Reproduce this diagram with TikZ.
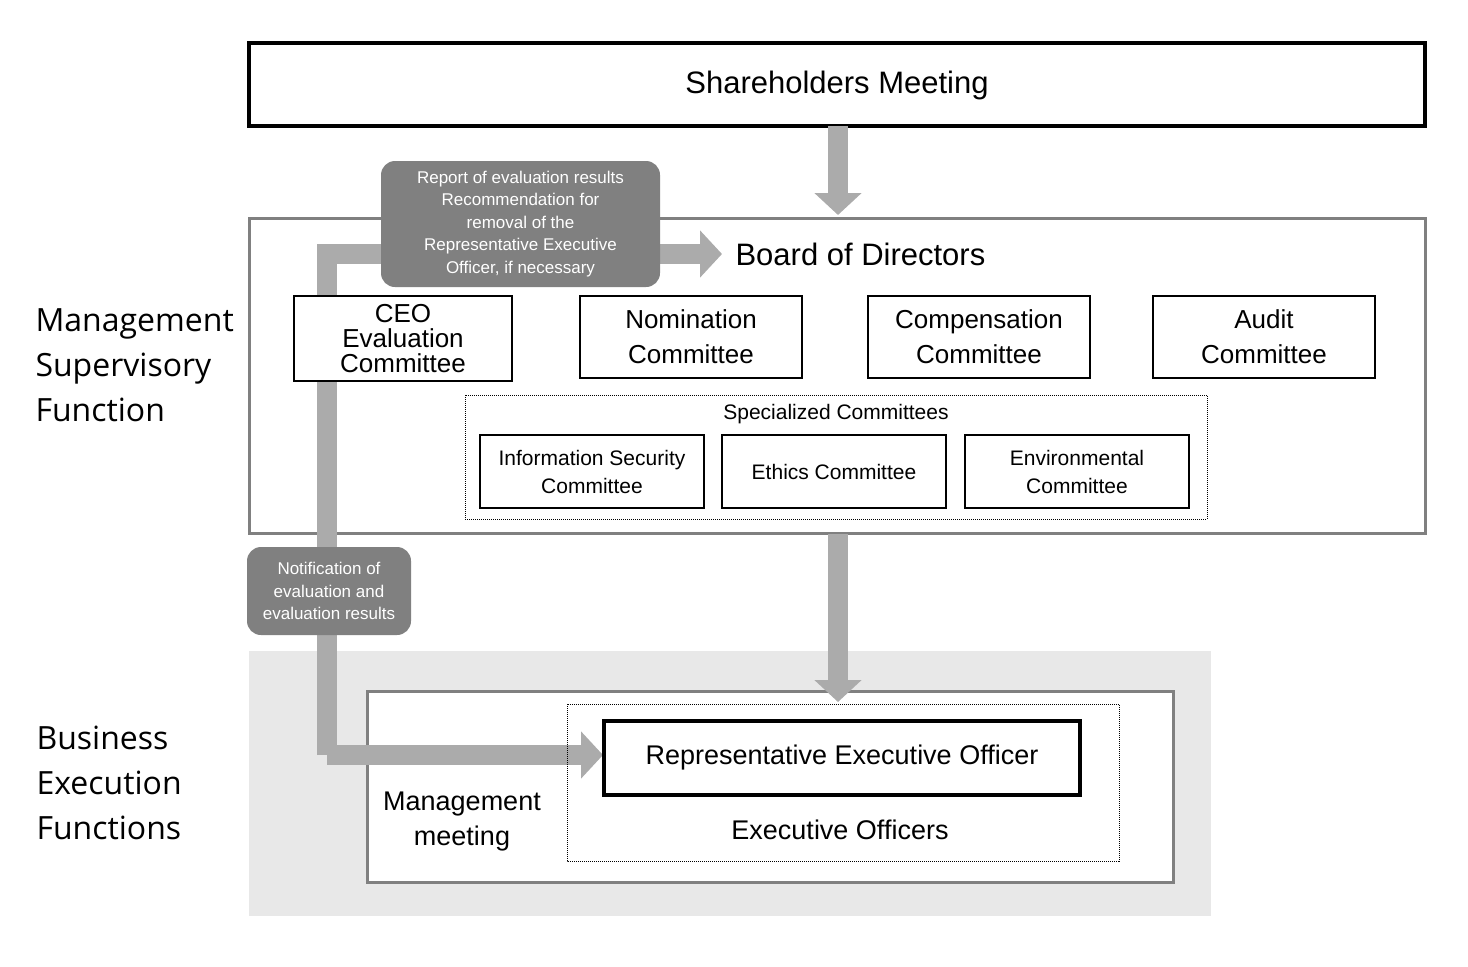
\documentclass[tikz,border=0pt]{standalone}
\usepackage{fontspec}
\setmainfont{Liberation Sans}
\newfontfamily\sidefont{Open Sans}
\usetikzlibrary{arrows.meta}
\definecolor{arr}{gray}{0.67}
\definecolor{lab}{gray}{0.5}
\definecolor{bg}{gray}{0.91}
\newcommand{\fs}[1]{\fontsize{#1}{#1}\selectfont}
\newcommand{\fsl}[2]{\fontsize{#1}{#2}\selectfont}
\begin{document}
\begin{tikzpicture}[x=1pt,y=-1pt,
  blk/.style={draw=black,line width=2.5pt,fill=white},
  big/.style={draw=black,line width=4pt,fill=white},
  grayframe/.style={draw=lab,line width=3pt,fill=white},
  dot/.style={draw=black,densely dotted,line width=1pt},
  lbl/.style={fill=lab,rounded corners=14pt,text=white,align=center,font=\fsl{17}{22.5}},
  fat/.style={draw=arr,line width=20pt,-{Triangle[width=46pt,length=22pt]}},
  side/.style={align=left,anchor=west,font=\sidefont\fsl{32}{45}}]
\useasboundingbox (0,0) rectangle (1468,967);
\fill[bg] (249,651) rectangle (1211,916);
% boxes
\draw[big] (249,43) rectangle (1425,126);
\node[font=\fs{31}] (sh) at (837,85) {Shareholders Meeting};
\draw[grayframe] (249,218) rectangle (1425,533);
\coordinate (shb) at (838,126);
\coordinate (bdt) at (838,215);
\coordinate (bdb) at (838,534);
\coordinate (mgt) at (838,702);
\draw[fat] (shb) -- (bdt);
\draw[grayframe] (367,691) rectangle (1173,882);
\draw[fat] (bdb) -- (mgt);
% feedback path
\coordinate (pb) at (327,755);
\coordinate (pt) at (327,254);
\coordinate (pr) at (722,254);
\coordinate (pe) at (603,755);
\draw[fat] (pb) -- (pt) -- (pr);
\draw[fat] (pb) -- (pe);
\node[font=\fs{31},anchor=west] (bod) at (732,254) {Board of Directors};
\node[lbl,minimum width=279pt,minimum height=126pt] (rep) at (520.5,224) {Report of evaluation results\\Recommendation for\\removal of the\\Representative Executive\\Officer, if necessary};
\node[lbl,minimum width=164pt,minimum height=88pt] (not) at (329,591) {Notification of\\evaluation and\\evaluation results};
% committees
\tikzset{cmt/.style={blk,minimum width=222pt,minimum height=82pt,align=center,font=\fsl{26}{35}}}
\node[cmt,minimum width=218pt,minimum height=85pt,font=\fsl{26}{25}] (ceo) at (403,338.5) {CEO\\Evaluation\\Committee};
\node[cmt] (nom) at (691,337) {Nomination\\Committee};
\node[cmt] (com) at (979,337) {Compensation\\Committee};
\node[cmt] (aud) at (1264,337) {Audit\\Committee};
\draw[dot] (465,395) rectangle (1207,519);
\node[font=\fs{21}] (spec) at (836,414) {Specialized Committees};
\tikzset{sc/.style={blk,minimum width=224pt,minimum height=73pt,align=center,font=\fsl{21}{28}}}
\node[sc] (inf) at (592,471.5) {Information Security\\Committee};
\node[sc] (eth) at (834,471.5) {Ethics Committee};
\node[sc] (env) at (1077,471.5) {Environmental\\Committee};
% execution
\draw[dot] (567,704) rectangle (1119,861);
\node[big,minimum width=476pt,minimum height=74pt,font=\fs{27}] (reo) at (842,758) {Representative Executive Officer};
\node[font=\fs{27}] (exo) at (840,830) {Executive Officers};
\node[font=\fsl{27}{35},align=center] (mm) at (462,822) {Management\\meeting};
% side labels
\node[side] (msf) at (32,365) {Management\\Supervisory\\Function};
\node[side] (bef) at (33,783) {Business\\Execution\\Functions};
\end{tikzpicture}
\end{document}
